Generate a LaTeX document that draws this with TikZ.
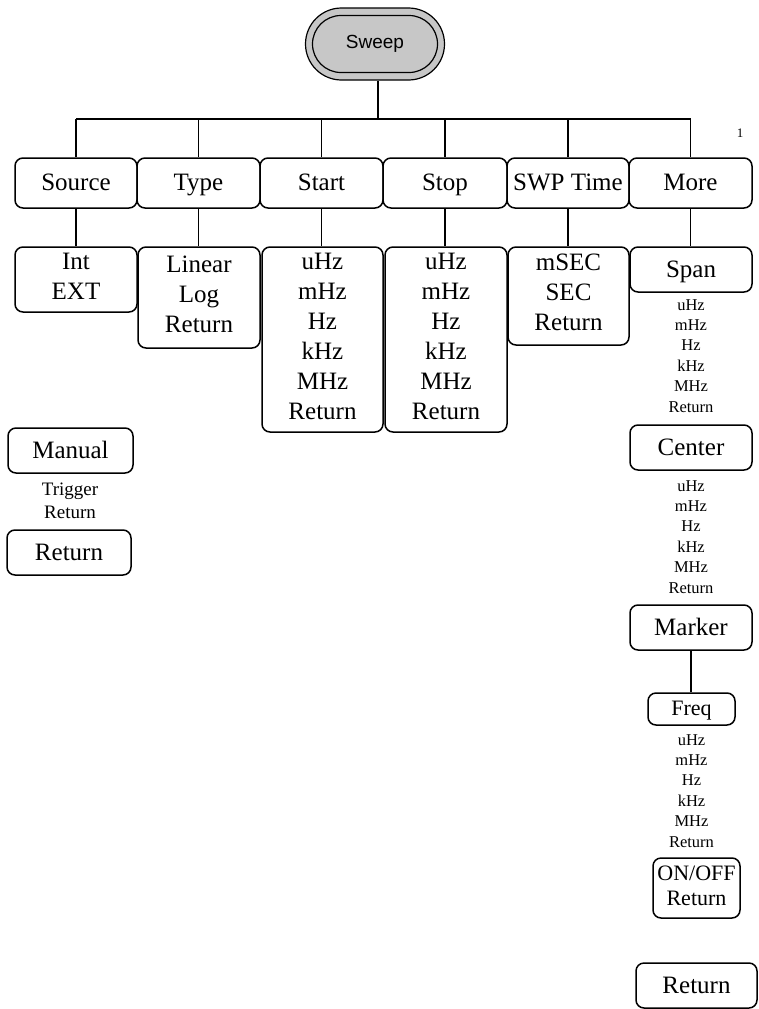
\documentclass[tikz,border=0pt]{standalone}
\usepackage{fontspec}
\setmainfont{Liberation Serif}
\newfontfamily\arialf{Liberation Sans}
\newcommand\mystrut{\rule[-0.22\baselineskip]{0pt}{0.95\baselineskip}}
\begin{document}
\begin{tikzpicture}[x=1pt,y=-1pt,
  box/.style={draw,line width=1.5pt,rounded corners=8pt,inner sep=0pt,align=center,
    font=\fontsize{25}{30}\selectfont,execute at begin node=\mystrut,execute at end node=\mystrut},
  smallbox/.style={box,font=\fontsize{22}{25}\selectfont},
  lst/.style={inner sep=0pt,align=center,font=\fontsize{16.5}{20.4}\selectfont,
    execute at begin node=\mystrut,execute at end node=\mystrut},
  lstb/.style={lst,font=\fontsize{19}{23}\selectfont},
  wire/.style={line width=1.5pt}]
\useasboundingbox (0,0) rectangle (758,1009);
% Sweep pill
\node[draw,line width=1.2pt,fill=black!22,rounded corners=36pt,minimum width=139pt,minimum height=72pt,inner sep=0pt] (sweepo) at (375,44) {};
\node[draw,line width=1.2pt,rounded corners=28.5pt,minimum width=125pt,minimum height=57pt,inner sep=0pt,font=\arialf\fontsize{19}{22}\selectfont] (sweep) at (375,44) {Sweep};
% top row
\node[box,minimum width=122pt,minimum height=50pt] (src) at (76,183) {Source};
\node[box,minimum width=123pt,minimum height=50pt] (typ) at (198.5,183) {Type};
\node[box,minimum width=123pt,minimum height=50pt] (sta) at (321.5,183) {Start};
\node[box,minimum width=124pt,minimum height=50pt] (sto) at (445,183) {Stop};
\node[box,minimum width=122pt,minimum height=50pt] (swp) at (568,183) {SWP Time};
\node[box,minimum width=123pt,minimum height=50pt] (mor) at (690.5,183) {More};
\node[inner sep=0pt,font=\fontsize{13}{15}\selectfont] (one) at (740,133) {1};
% second row
\node[box,minimum width=122pt,minimum height=65pt] (intx) at (76,279.5) {Int\\EXT};
\node[box,minimum width=122pt,minimum height=101pt] (lin) at (199,297.5) {Linear\\Log\\Return};
\node[box,minimum width=121pt,minimum height=185pt] (staU) at (322.5,339.5) {uHz\\mHz\\Hz\\kHz\\MHz\\Return};
\node[box,minimum width=122pt,minimum height=185pt] (stoU) at (446,339.5) {uHz\\mHz\\Hz\\kHz\\MHz\\Return};
\node[box,minimum width=121pt,minimum height=98pt] (sec) at (568.5,296) {mSEC\\SEC\\Return};
\node[box,minimum width=122pt,minimum height=45pt] (span) at (691,269.5) {Span};
\node[lst] (spanL) at (691,358) {uHz\\mHz\\Hz\\kHz\\MHz\\Return};
\node[box,minimum width=122pt,minimum height=45pt] (cen) at (691,447.5) {Center};
\node[lst] (cenL) at (691,539) {uHz\\mHz\\Hz\\kHz\\MHz\\Return};
\node[box,minimum width=122pt,minimum height=45pt] (mkr) at (691,627.5) {Marker};
\node[smallbox,minimum width=87pt,minimum height=32pt] (frq) at (691.5,709) {Freq};
\node[lst] (frqL) at (691.5,793) {uHz\\mHz\\Hz\\kHz\\MHz\\Return};
\node[smallbox,minimum width=87pt,minimum height=60pt] (onoff) at (696.5,888) {ON/OFF\\Return};
\node[box,minimum width=121pt,minimum height=45pt] (retR) at (696.5,985.5) {Return};
% left column
\node[box,minimum width=125pt,minimum height=45pt] (man) at (70.5,450.5) {Manual};
\node[lstb] (trg) at (70,503.5) {Trigger\\Return};
\node[box,minimum width=124pt,minimum height=45pt] (retL) at (69,552.5) {Return};
% connectors
\coordinate (bus) at (378,119);
\draw[wire] ([xshift=3pt]sweepo.south) -- ([xshift=3pt]sweepo.south |- bus);
\draw[wire] (src.north |- bus) -- (mor.north |- bus);
\foreach \n in {src,typ,sta,sto,swp,mor} \draw[wire] (\n.north |- bus) -- (\n.north);
\draw[wire] (src.south) -- (intx.north);
\draw[wire] (typ.south) -- (typ.south |- lin.north);
\draw[wire] (sta.south) -- (sta.south |- staU.north);
\draw[wire] (sto.south) -- (sto.south |- stoU.north);
\draw[wire] (swp.south) -- (swp.south |- sec.north);
\draw[wire] (mor.south) -- (mor.south |- span.north);
\draw[wire] (mkr.south) -- (mkr.south |- frq.north);
\end{tikzpicture}
\end{document}
